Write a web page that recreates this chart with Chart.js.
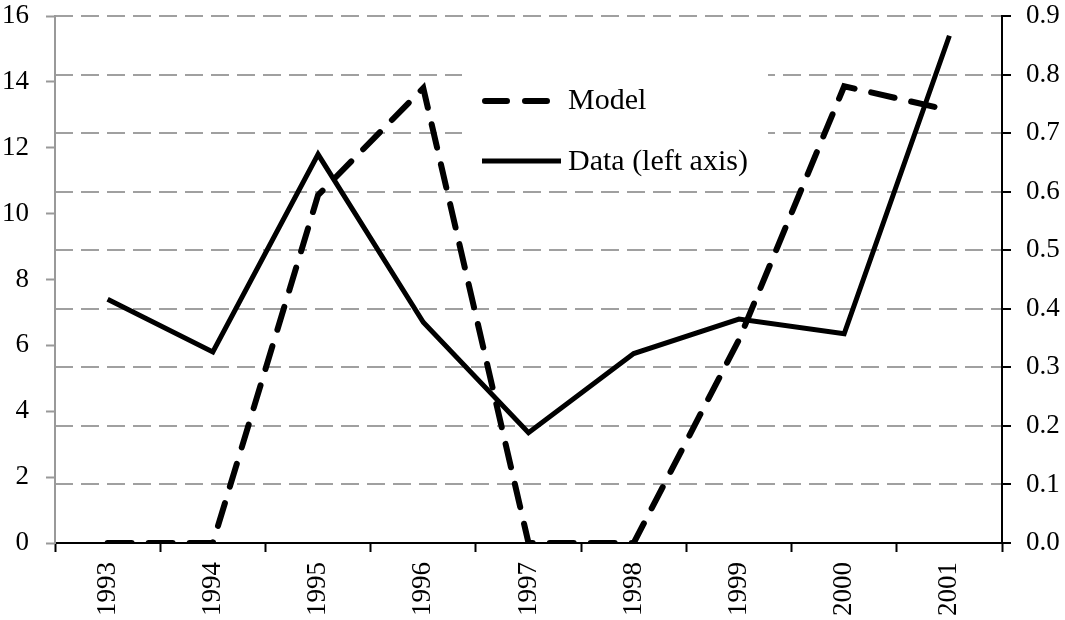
<!DOCTYPE html>
<html>
<head>
<meta charset="utf-8">
<script src="https://cdn.jsdelivr.net/npm/chart.js@4.4.1/dist/chart.umd.min.js"></script>
<style>
  html, body { margin: 0; padding: 0; background: #fff; }
  #wrap { width: 1065px; height: 620px; }
</style>
</head>
<body>
<div id="wrap"><canvas id="grafico"></canvas></div>
<script>
var anios = ['1993', '1994', '1995', '1996', '1997', '1998', '1999', '2000', '2001'];
var datosIzq = [7.4, 5.8, 11.8, 6.7, 3.35, 5.75, 6.8, 6.35, 15.4];
var modelo = [0, 0, 0.594, 0.777, 0, 0, 0.347, 0.78, 0.739];
var ticksIzq = [0, 2, 4, 6, 8, 10, 12, 14, 16];
var ticksDer = [0, 0.1, 0.2, 0.3, 0.4, 0.5, 0.6, 0.7, 0.8, 0.9];

var fuente = { family: '"Liberation Serif", "Times New Roman", serif', size: 27 };

// leyenda dentro del area, con fondo blanco tapando la rejilla
var leyendaInterna = {
    id: 'leyendaInterna',
    beforeDatasetsDraw: function (chart) {
        var ctx = chart.ctx;
        ctx.save();
        ctx.fillStyle = '#fff';
        ctx.fillRect(462, 66, 306, 124);
        ctx.strokeStyle = '#000';
        ctx.lineCap = 'round';
        ctx.lineWidth = 6;
        ctx.setLineDash([22, 18]);
        ctx.beginPath();
        ctx.moveTo(485, 101);
        ctx.lineTo(556, 101);
        ctx.stroke();
        ctx.setLineDash([]);
        ctx.lineWidth = 5;
        ctx.lineCap = 'butt';
        ctx.beginPath();
        ctx.moveTo(482, 161);
        ctx.lineTo(561, 161);
        ctx.stroke();
        ctx.fillStyle = '#000';
        ctx.font = '30px "Liberation Serif", "Times New Roman", serif';
        ctx.textBaseline = 'middle';
        ctx.fillText('Model', 568, 101);
        ctx.fillText('Data (left axis)', 568, 162);
        ctx.restore();
    }
};

function sinRelleno(s) {
    s.paddingTop = 0;
    s.paddingBottom = 0;
}

var ctx = document.getElementById('grafico').getContext('2d');
var chart = new Chart(ctx, {
    type: 'line',
    data: {
        labels: anios,
        datasets: [{
            label: 'Model',
            data: modelo,
            yAxisID: 'y2',
            borderColor: '#000',
            borderWidth: 6,
            borderDash: [24, 17],
            borderCapStyle: 'round',
            pointRadius: 0,
            tension: 0,
            fill: false
        }, {
            label: 'Data (left axis)',
            data: datosIzq,
            yAxisID: 'y',
            borderColor: '#000',
            borderWidth: 5,
            pointRadius: 0,
            tension: 0,
            fill: false
        }]
    },
    options: {
        responsive: true,
        maintainAspectRatio: false,
        animation: false,
        layout: { padding: { top: 16, left: 0, right: 0, bottom: 0 } },
        plugins: {
            legend: { display: false },
            tooltip: { enabled: false }
        },
        scales: {
            x: {
                offset: true,
                grid: {
                    offset: true,
                    drawOnChartArea: false,
                    tickLength: 9,
                    tickColor: '#000',
                    tickWidth: 2
                },
                border: { color: '#000', width: 2 },
                ticks: {
                    color: '#000',
                    font: fuente,
                    minRotation: 90,
                    maxRotation: 90,
                    padding: 10
                },
                afterFit: function (s) { s.height = 77; s.paddingLeft = 0; s.paddingRight = 0; }
            },
            y: {
                position: 'left',
                min: 0,
                max: 16,
                afterBuildTicks: function (s) { s.ticks = ticksIzq.map(v => ({ value: v })); },
                grid: {
                    drawOnChartArea: false,
                    tickLength: 9,
                    tickColor: '#999',
                    tickWidth: 2
                },
                border: { color: '#999', width: 2 },
                ticks: { color: '#000', font: fuente, padding: 17 },
                afterFit: function (s) { s.width = 55; sinRelleno(s); }
            },
            y2: {
                position: 'right',
                min: 0,
                max: 0.9,
                afterBuildTicks: function (s) { s.ticks = ticksDer.map(v => ({ value: v })); },
                grid: {
                    drawOnChartArea: true,
                    color: '#a0a0a0',
                    lineWidth: 2,
                    tickLength: 9,
                    tickColor: '#000',
                    tickWidth: 2
                },
                border: { color: '#000', width: 2, dash: [18, 8] },
                ticks: {
                    color: '#000',
                    font: fuente,
                    padding: 15,
                    callback: function (v) { return Number(v).toFixed(1); }
                },
                afterFit: function (s) { s.width = 63; sinRelleno(s); }
            }
        }
    },
    plugins: [leyendaInterna]
});
</script>
</body>
</html>
